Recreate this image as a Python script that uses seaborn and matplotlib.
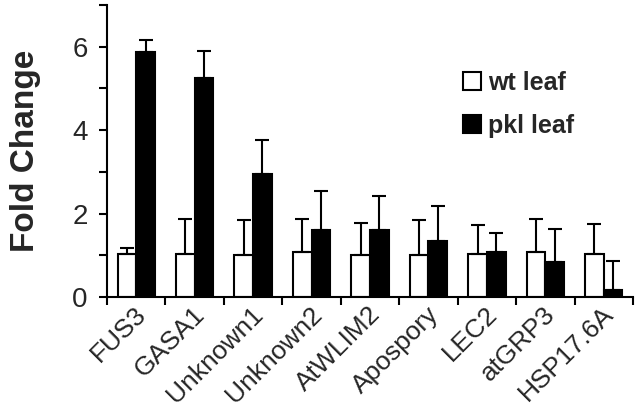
import pandas as pd
import numpy as np
import matplotlib
matplotlib.use('Agg')
import matplotlib.pyplot as plt
import seaborn as sns
from matplotlib.patches import Patch
from matplotlib.ticker import FixedLocator
from matplotlib.transforms import ScaledTranslation

# values
genes = ['FUS3', 'GASA1', 'Unknown1', 'Unknown2', 'AtWLIM2', 'Apospory', 'LEC2', 'atGRP3', 'HSP17.6A']
wt_mean = [1.03, 1.03, 1.00, 1.07, 1.00, 1.00, 1.04, 1.07, 1.04]
wt_err = [0.14, 0.84, 0.84, 0.80, 0.78, 0.84, 0.69, 0.80, 0.71]
pkl_mean = [5.87, 5.25, 2.96, 1.61, 1.61, 1.35, 1.08, 0.85, 0.17]
pkl_err = [0.28, 0.64, 0.81, 0.93, 0.81, 0.83, 0.45, 0.78, 0.70]
groups = ['wt leaf', 'pkl leaf']

df = pd.DataFrame({
    'gene': genes * 2,
    'group': [groups[0]] * len(genes) + [groups[1]] * len(genes),
    'fold': wt_mean + pkl_mean,
})

sns.set_style('ticks')
plt.rcParams['font.family'] = ['Liberation Sans', 'DejaVu Sans']

fig = plt.figure(figsize=(6.41, 4.18), dpi=100)
ax = fig.add_axes([107 / 641, 1 - 297 / 418, 526 / 641, 292 / 418])

bw = 0.32
sns.barplot(data=df, x='gene', y='fold', hue='group', hue_order=groups,
            palette=['white', 'black'], edgecolor='black', linewidth=1.5,
            width=2 * bw, errorbar=None, ax=ax, legend=False)

x = np.arange(len(genes))
for off, m, e in [(-bw / 2, wt_mean, wt_err), (bw / 2, pkl_mean, pkl_err)]:
    ax.errorbar(x + off, m, yerr=[np.zeros(len(m)), e], fmt='none',
                ecolor='black', elinewidth=1.5, capsize=5, capthick=1.5)

ax.set_xlim(-0.5, len(genes) - 0.5)
ax.set_ylim(0, 7)
ax.yaxis.set_major_locator(FixedLocator([0, 2, 4, 6]))
ax.yaxis.set_minor_locator(FixedLocator([1, 3, 5, 7]))
ax.xaxis.set_minor_locator(FixedLocator(np.arange(-0.5, len(genes), 1.0)))
ax.tick_params(axis='both', which='both', direction='out', width=1.5, length=6, color='black')
ax.tick_params(axis='x', which='major', length=0, pad=3)
ax.tick_params(axis='y', labelsize=20, pad=8)
ax.set_xticks(x)
ax.set_xticklabels(genes, rotation=45, ha='right', rotation_mode='anchor', fontsize=19)
for lab in ax.get_xticklabels():
    lab.set_transform(lab.get_transform() + ScaledTranslation(-1.5 / 72, -0.5 / 72, fig.dpi_scale_trans))

for s in ['top', 'right']:
    ax.spines[s].set_visible(False)
for s in ['left', 'bottom']:
    ax.spines[s].set_linewidth(1.5)
    ax.spines[s].set_color('black')

ax.set_xlabel('')
ax.set_ylabel('Fold Change', fontsize=24, fontweight='bold')
ax.yaxis.set_label_coords(-66 / 526, 0.5)

handles = [Patch(facecolor='white', edgecolor='black', linewidth=1.5),
           Patch(facecolor='black', edgecolor='black', linewidth=1.5)]
ax.legend(handles, groups, loc='upper left', bbox_to_anchor=((463 - 107) / 526, (297 - 71) / 292),
          frameon=False, borderpad=0, borderaxespad=0,
          prop={'weight': 'bold', 'size': 18}, handlelength=0.72, handleheight=0.72,
          handletextpad=0.3, labelspacing=0.75)

fig.savefig('out.png', dpi=100)
